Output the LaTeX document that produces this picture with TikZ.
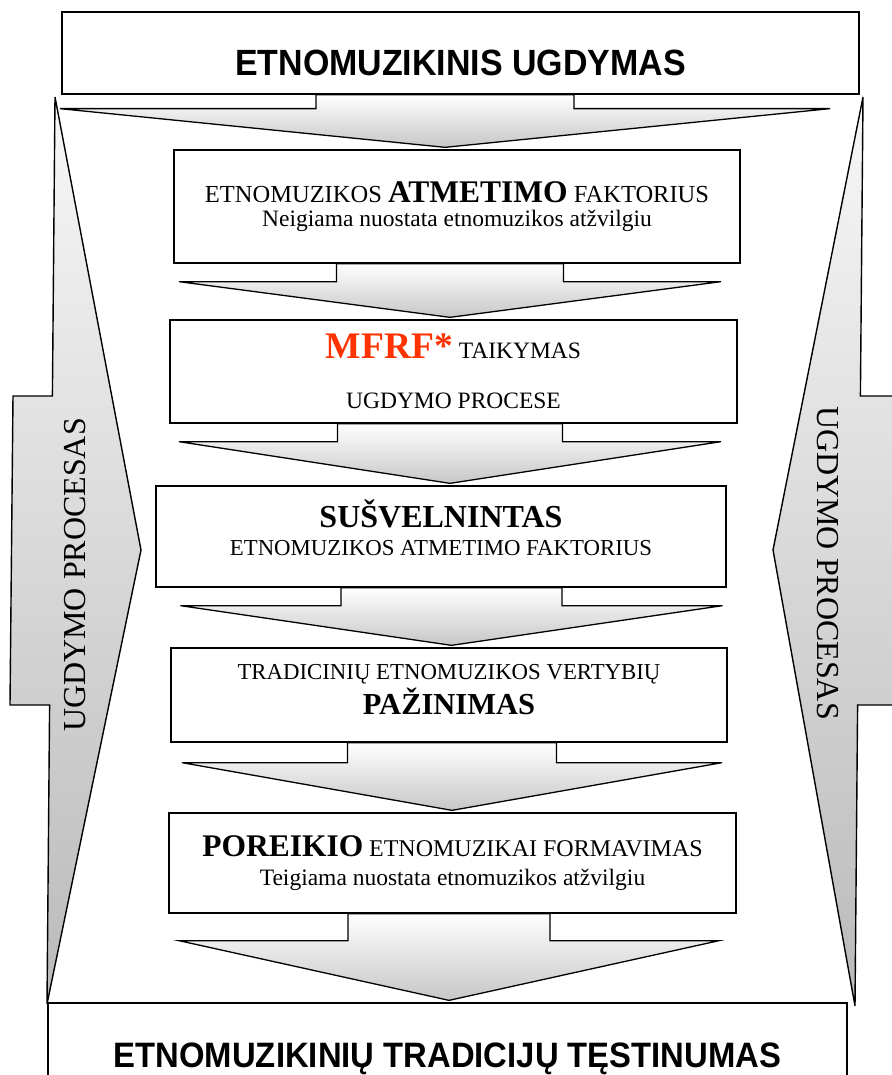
\documentclass[tikz,border=0pt]{standalone}
\usepackage{fontspec}
\setmainfont{Liberation Serif}
\newfontfamily\headfont{Liberation Sans}[FakeStretch=0.93]
\usetikzlibrary{calc}
\definecolor{mfrfred}{RGB}{255,51,0}
\newcommand{\fs}[1]{\fontsize{#1}{#1}\selectfont}
% block arrow: from, to, x shift of tip, stem half width, stem length, wing half width
\newcommand{\flowarrow}[6]{%
  \coordinate (tip) at ($(#2.north)+(#3,-2)$);
  \coordinate (top) at (tip |- #1.south);
  \draw[flowfill] ($(top)+(-#4,0)$) -- ($(top)+(#4,0)$) -- ($(top)+(#4,#5)$) -- ($(top)+(#6,#5)$) -- (tip) -- ($(top)+(-#6,#5)$) -- ($(top)+(-#4,#5)$) -- cycle;}
\tikzset{
  box/.style={draw,line width=1.3pt,fill=white,inner sep=0pt,align=center,font=\fs{23.5}},
  titlebox/.style={box,font=\headfont\bfseries\fs{36.5}},
  flowfill/.style={draw,line width=1.3pt,top color=white,bottom color=black!22},
  sideshape/.style={draw,line width=1.4pt,top color=black!3,bottom color=black!27},
  sidetext/.style={font=\fs{32},inner sep=0pt}
}
\begin{document}
\begin{tikzpicture}[x=1pt,y=-1pt]
\useasboundingbox (0,0) rectangle (891,1075);
% side arrows
\draw[sideshape] (55,97) -- (141,550) -- (47,1004) -- (49.6,705) -- (10,705) -- (13,396) -- (52.4,396) -- cycle;
\draw[sideshape] (863,97) -- (773,550) -- (855,1006) -- (857.6,705) -- (900,705) -- (900,396) -- (860.4,396) -- cycle;
\node[sidetext,rotate=90] (lefttext) at (75,575) {UGDYMO PROCESAS};
\node[sidetext,rotate=-90] (righttext) at (828,563) {UGDYMO PROCESAS};
% boxes
\node[titlebox,minimum width=797,minimum height=82,text height=46pt,text depth=0pt] (head) at (460.5,53) {ETNOMUZIKINIS UGDYMAS};
\node[box,minimum width=566,minimum height=113] (b1) at (457,206.5) {{\fs{24.5}ETNOMUZIKOS {\bfseries\fs{31.5}ATMETIMO} FAKTORIUS}\\ Neigiama nuostata etnomuzikos atžvilgiu};
\node[box,minimum width=567,minimum height=103] (b2) at (453.5,371.5) {{\color{mfrfred}\bfseries\fs{37.5}MFRF*} TAIKYMAS\\[26.5pt] UGDYMO PROCESE};
\node[box,minimum width=570,minimum height=101,text depth=18pt] (b3) at (441,536.5) {{\bfseries\fs{32}SUŠVELNINTAS}\\[4.5pt] {\fs{22.8}ETNOMUZIKOS ATMETIMO FAKTORIUS}};
\node[box,minimum width=556,minimum height=94,text depth=11pt] (b4) at (449,695) {{\fs{22.8}TRADICINIŲ ETNOMUZIKOS VERTYBIŲ}\\[3pt] {\bfseries\fs{30.5}PAŽINIMAS}};
\node[box,minimum width=567,minimum height=100] (b5) at (452.5,863) {{\bfseries\fs{31.5}POREIKIO} {\fs{24}ETNOMUZIKAI FORMAVIMAS}\\[5.5pt] Teigiama nuostata etnomuzikos atžvilgiu};
\node[titlebox,font=\headfont\bfseries\fs{35.3},minimum width=799,minimum height=112] (foot) at (447.5,1059) {ETNOMUZIKINIŲ TRADICIJŲ TĘSTINUMAS};
% arrows between boxes
\flowarrow{head}{b1}{-12}{129}{14}{385}
\flowarrow{b1}{b2}{-3.5}{113.5}{18}{271}
\flowarrow{b2}{b3}{9}{112.5}{18}{271}
\flowarrow{b3}{b4}{2.5}{110.5}{18}{271}
\flowarrow{b4}{b5}{-0.5}{104.5}{20}{270}
\flowarrow{b5}{foot}{1.5}{101}{27}{270}
\end{tikzpicture}
\end{document}
